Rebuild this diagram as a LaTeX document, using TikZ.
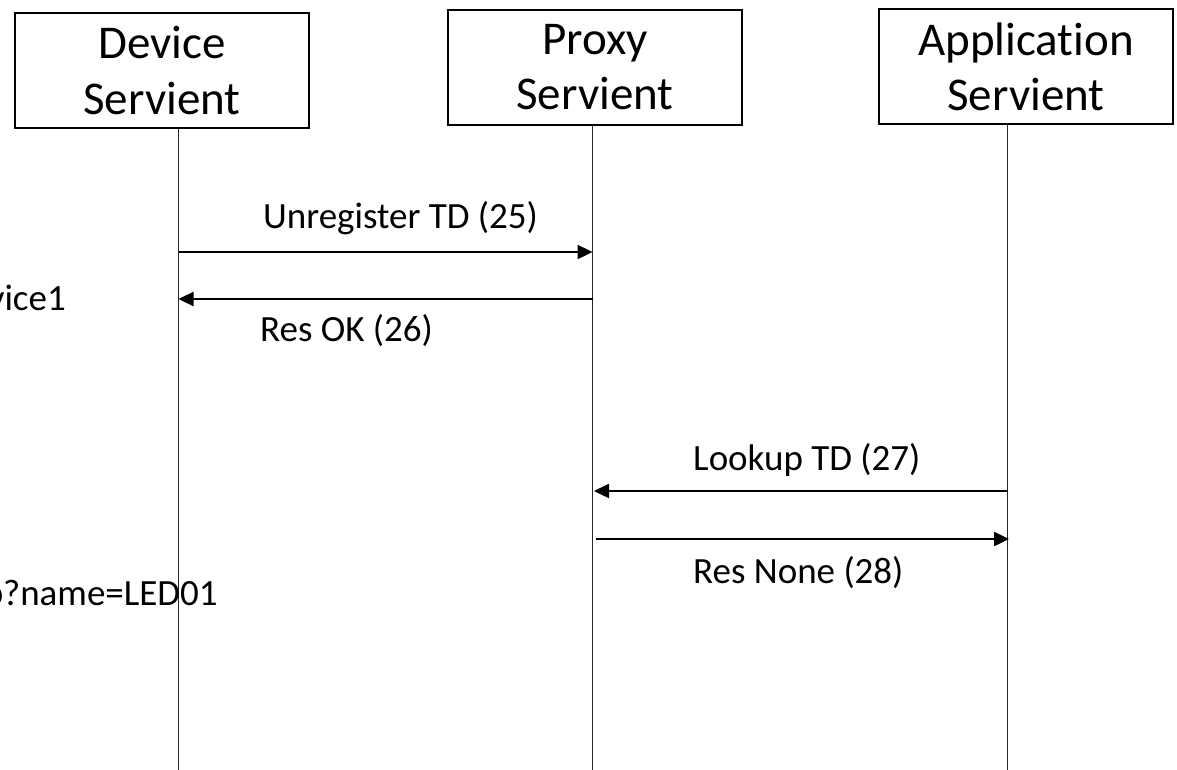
\documentclass[tikz,border=0pt]{standalone}
\usepackage{fontspec}
\setmainfont{Carlito}[Ligatures=NoCommon]
\usetikzlibrary{arrows.meta}
\tikzset{
  party/.style={draw, line width=2pt, inner sep=0pt, minimum width=294pt,
    minimum height=115pt, align=center, font=\fontsize{47pt}{55pt}\selectfont},
  lifeline/.style={draw, line width=1pt, black!85},
  msg/.style={draw, line width=2.4pt, -{Triangle[length=15pt,width=14pt]}},
  msglabel/.style={inner sep=0pt, font=\fontsize{37pt}{44pt}\selectfont}
}
\begin{document}
\begin{tikzpicture}[x=1pt, y=-1pt]
  \useasboundingbox (0,0) rectangle (1177,769);
  \clip (0,0) rectangle (1177,769);

  % participants
  \node[party, anchor=north west] (dev) at (14,12) {Device\\Servient};
  \node[party, anchor=north west] (proxy) at (447,9) {Proxy\\Servient};
  \node[party, anchor=north west] (app) at (878,8) {Application\\Servient};

  % lower ends of the lifelines
  \coordinate (devend) at (178.5,772);
  \coordinate (proxyend) at (592.5,772);
  \coordinate (append) at (1007,772);

  \draw[lifeline] (dev.south -| devend) -- (devend);
  \draw[lifeline] (proxy.south -| proxyend) -- (proxyend);
  \draw[lifeline] (app.south -| append) -- (append);

  % message points on the lifelines
  \coordinate (m25a) at (178.5,252);  \coordinate (m25b) at (592.5,252);
  \coordinate (m26a) at (592.5,299);  \coordinate (m26b) at (178.5,299);
  \coordinate (m27a) at (1007,491);   \coordinate (m27b) at (594,491);
  \coordinate (m28a) at (596,539);    \coordinate (m28b) at (1009,539);

  \draw[msg] (m25a) -- (m25b);
  \draw[msg] (m26a) -- (m26b);
  \draw[msg] (m27a) -- (m27b);
  \draw[msg] (m28a) -- (m28b);

  % message labels
  \node[msglabel, anchor=base west] (l25) at (263,228) {Unregister TD (25)};
  \node[msglabel, anchor=base west] (l26) at (260,341) {Res OK (26)};
  \node[msglabel, anchor=base west] (l27) at (693,470) {Lookup TD (27)};
  \node[msglabel, anchor=base west] (l28) at (693,583) {Res None (28)};

  % notes running in from the left edge
  \node[msglabel, anchor=base east] (note1) at (66,310) {vice1};
  \node[msglabel, anchor=base east] (note2) at (218,605) {p?name=LED01};
\end{tikzpicture}
\end{document}
